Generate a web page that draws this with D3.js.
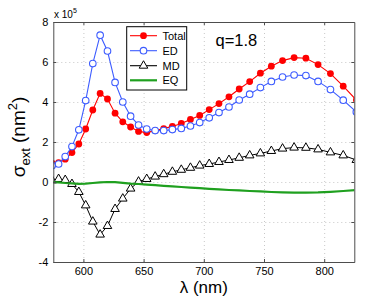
<!DOCTYPE html>
<html><head><meta charset="utf-8">
<script src="https://cdn.jsdelivr.net/npm/d3@7"></script>
<style>
html,body{margin:0;padding:0;background:#fff;}
svg{display:block;font-family:"Liberation Sans",Arial,Helvetica,sans-serif;}
</style></head>
<body>
<svg id="chart" width="391" height="299"></svg>
<script>
// wavelengths (nm), points evenly spaced in photon energy
const lambda = [574.1,579.4,584.9,590.5,596.2,601.9,607.8,613.9,620.0,626.3,632.7,639.2,645.8,652.6,659.6,666.7,673.9,681.3,688.9,696.6,704.5,712.6,720.9,729.4,738.1,747.0,756.1,765.4,775.0,784.8,794.9,805.2,815.8,826.7];
// values in units of 1e5 nm^2
const total = [0.93,0.97,1.14,1.47,1.90,2.65,3.60,4.43,4.15,3.44,3.01,2.75,2.53,2.47,2.57,2.67,2.78,2.93,3.13,3.33,3.62,3.92,4.26,4.65,5.02,5.44,5.79,6.07,6.22,6.19,5.87,5.42,4.79,4.10];
const ed    = [0.82,0.90,1.27,1.77,2.61,4.07,5.92,7.34,6.55,4.98,4.00,3.29,2.85,2.65,2.57,2.57,2.62,2.68,2.80,2.97,3.21,3.47,3.75,4.10,4.39,4.72,5.03,5.25,5.35,5.32,5.03,4.62,4.09,3.50];
const md    = [0.08,0.15,0.10,-0.10,-0.50,-1.17,-1.98,-2.63,-2.20,-1.35,-0.83,-0.33,0.02,0.15,0.27,0.39,0.51,0.61,0.71,0.82,0.90,1.00,1.10,1.21,1.33,1.43,1.55,1.67,1.72,1.71,1.63,1.48,1.33,1.10];
const eq    = [0.00,-0.02,-0.05,-0.07,-0.09,-0.08,-0.05,-0.02,0.00,-0.01,-0.04,-0.08,-0.10,-0.13,-0.16,-0.19,-0.22,-0.25,-0.28,-0.31,-0.34,-0.37,-0.40,-0.42,-0.45,-0.47,-0.50,-0.52,-0.53,-0.53,-0.52,-0.49,-0.45,-0.40];
const xTicks = [600,650,700,750,800];
const yTicks = [-4,-2,0,2,4,6,8];
const seriesNames = ["Total","ED","MD","EQ"];

const svg = d3.select("#chart");
const L = 53.3, R = 354.3, T = 22, B = 262;
const x = d3.scaleLinear().domain([575,825]).range([L,R]);
const y = d3.scaleLinear().domain([-4,8]).range([B,T]);
const axisColor = "#4d4d4d";

// grid
const grid = svg.append("g");
grid.append("g").attr("transform",`translate(0,${B})`)
  .call(d3.axisBottom(x).tickValues(xTicks).tickSize(-(B-T)).tickFormat(""))
  .call(g=>{g.select(".domain").remove();g.selectAll("line").attr("stroke","#c8c8c8").attr("stroke-dasharray","1,3");});
grid.append("g").attr("transform",`translate(${L},0)`)
  .call(d3.axisLeft(y).tickValues(yTicks).tickSize(-(R-L)).tickFormat(""))
  .call(g=>{g.select(".domain").remove();g.selectAll("line").attr("stroke","#c8c8c8").attr("stroke-dasharray","1,3");});

// clip
svg.append("clipPath").attr("id","clip").append("rect").attr("x",L).attr("y",T).attr("width",R-L).attr("height",B-T);
const plot = svg.append("g").attr("clip-path","url(#clip)");

const pts = arr => arr.map((v,i)=>[lambda[i],v]);
const line = d3.line().x(d=>x(d[0])).y(d=>y(d[1]));
const red = "#ff0000", blue = "#3d5cff", green = "#1fa01f", black = "#000";
const tri = d3.symbol().type(d3.symbolTriangle).size(32);

// Total
plot.append("path").attr("d",line(pts(total))).attr("fill","none").attr("stroke",red).attr("stroke-width",1.1);
plot.selectAll(".tot").data(pts(total)).join("circle").attr("cx",d=>x(d[0])).attr("cy",d=>y(d[1])).attr("r",3.4).attr("fill",red);
// ED
plot.append("path").attr("d",line(pts(ed))).attr("fill","none").attr("stroke",blue).attr("stroke-width",1.1);
plot.selectAll(".ed").data(pts(ed)).join("circle").attr("cx",d=>x(d[0])).attr("cy",d=>y(d[1])).attr("r",3.3).attr("fill","#fff").attr("stroke",blue).attr("stroke-width",1.1);
// MD
plot.append("path").attr("d",line(pts(md))).attr("fill","none").attr("stroke",black).attr("stroke-width",1);
plot.selectAll(".md").data(pts(md)).join("path").attr("d",tri).attr("transform",d=>`translate(${x(d[0])},${y(d[1])})`).attr("fill","#fff").attr("stroke",black).attr("stroke-width",1);
// EQ
plot.append("path").attr("d",line(pts(eq))).attr("fill","none").attr("stroke",green).attr("stroke-width",2.2);

// axes box with inward ticks
const tk = 3;
const styleAxis = g=>{g.select(".domain").attr("stroke",axisColor);g.selectAll(".tick line").attr("stroke",axisColor);g.selectAll("text").attr("fill","#000").attr("font-size","11px").attr("font-family","Liberation Sans, Arial, sans-serif");};
svg.append("g").attr("transform",`translate(0,${B})`)
  .call(d3.axisBottom(x).tickValues(xTicks).tickSizeInner(-tk).tickSizeOuter(0).tickPadding(5)).call(styleAxis);
svg.append("g").attr("transform",`translate(0,${T})`)
  .call(d3.axisTop(x).tickValues(xTicks).tickSizeInner(-tk).tickSizeOuter(0).tickFormat("")).call(styleAxis);
svg.append("g").attr("transform",`translate(${L},0)`)
  .call(d3.axisLeft(y).tickValues(yTicks).tickSizeInner(-tk).tickSizeOuter(0).tickPadding(5).tickFormat(d=>d3.format("d")(d).replace("−","-"))).call(styleAxis);
svg.append("g").attr("transform",`translate(${R},0)`)
  .call(d3.axisRight(y).tickValues(yTicks).tickSizeInner(-tk).tickSizeOuter(0).tickFormat("")).call(styleAxis);

// exponent label
const ex = svg.append("text").attr("x",54).attr("y",18).attr("font-size","10px").attr("fill","#000");
ex.append("tspan").text("x 10");
ex.append("tspan").attr("dy",-5).attr("font-size","7px").text("5");

// q label
svg.append("text").attr("x",215.5).attr("y",46).attr("font-size","16.5px").attr("fill","#000").text("q=1.8");

// axis labels
svg.append("text").attr("x",203.8).attr("y",293).attr("text-anchor","middle").attr("font-size","17px").attr("fill","#000").text("λ (nm)");
const yl = svg.append("text").attr("transform","translate(25,137) rotate(-90)").attr("text-anchor","middle").attr("font-size","19px").attr("fill","#000");
yl.append("tspan").text("σ");
yl.append("tspan").attr("dy",5).attr("font-size","13px").text("ext");
yl.append("tspan").attr("dy",-5).text(" (nm");
yl.append("tspan").attr("dy",-8).attr("font-size","13px").text("2");
yl.append("tspan").attr("dy",8).text(")");

// legend
const lg = svg.append("g");
lg.append("rect").attr("x",126.7).attr("y",26.7).attr("width",60).attr("height",63.3).attr("fill","#fff").attr("stroke","#000").attr("stroke-width",1);
const ly = [35.7,50.7,65.7,80.3];
const lcol = [red,blue,black,green];
seriesNames.forEach((n,i)=>{
  lg.append("line").attr("x1",130).attr("x2",157).attr("y1",ly[i]).attr("y2",ly[i]).attr("stroke",lcol[i]).attr("stroke-width",i===3?2.2:1.1);
  if(i===0) lg.append("circle").attr("cx",143.5).attr("cy",ly[i]).attr("r",3.4).attr("fill",red);
  if(i===1) lg.append("circle").attr("cx",143.5).attr("cy",ly[i]).attr("r",3.3).attr("fill","#fff").attr("stroke",blue).attr("stroke-width",1.1);
  if(i===2) lg.append("path").attr("d",tri).attr("transform",`translate(143.5,${ly[i]})`).attr("fill","#fff").attr("stroke",black);
  lg.append("text").attr("x",162.5).attr("y",ly[i]+4).attr("font-size","11px").attr("fill","#000").text(n);
});
</script>
</body></html>
